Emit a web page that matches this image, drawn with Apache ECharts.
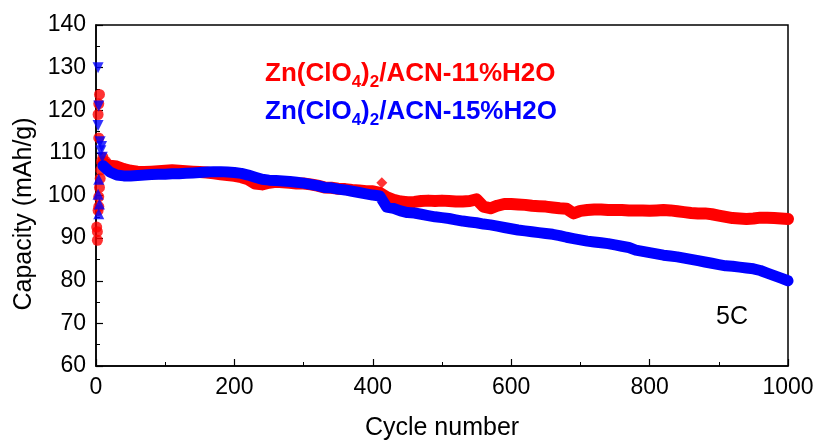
<!DOCTYPE html>
<html>
<head>
<meta charset="utf-8">
<script src="https://cdn.jsdelivr.net/npm/echarts@6/dist/echarts.min.js"></script>
<style>
  html, body { margin: 0; padding: 0; background: #fff; }
  #cont { width: 819px; height: 446px; }
</style>
</head>
<body>
<div id="cont"></div>
<script>
// cycles sampled along the band
var cycles = [10,20,30,40,50,60,70,80,90,100,110,120,130,140,150,160,170,180,190,200,
  210,220,230,240,250,260,270,280,290,300,310,320,330,340,350,360,370,380,390,400,
  410,420,430,440,450,460,470,480,490,500,510,520,530,540,550,560,570,580,590,600,
  610,620,630,640,650,660,670,680,690,700,710,720,730,740,750,760,770,780,790,800,
  810,820,830,840,850,860,870,880,890,900,910,920,930,940,950,960,970,980,990,1000];

// Zn(ClO4)2/ACN-11%H2O
var redVals = [107.5,107.0,106.8,106.2,105.8,105.6,105.5,105.6,105.7,105.8,105.9,105.8,105.7,105.6,105.5,105.4,105.2,105.0,104.8,104.6,
  104.3,103.8,102.8,102.6,103.0,103.2,103.1,103.0,102.8,102.8,102.6,102.3,101.9,101.8,101.6,101.5,101.3,101.2,101.0,101.0,
  100.6,99.6,99.0,98.6,98.4,98.5,98.7,98.8,98.7,98.8,98.7,98.6,98.6,98.7,99.1,97.4,97.0,97.6,98.0,98.0,
  97.9,97.8,97.6,97.5,97.4,97.2,97.0,96.9,95.8,96.4,96.6,96.7,96.7,96.6,96.6,96.6,96.5,96.5,96.5,96.4,
  96.5,96.6,96.5,96.3,96.1,95.9,95.8,95.8,95.6,95.3,95.0,94.7,94.6,94.5,94.6,94.8,94.8,94.7,94.6,94.5];

// Zn(ClO4)2/ACN-15%H2O
var blueVals = [107.0,105.5,104.8,104.6,104.6,104.7,104.8,104.9,105.0,105.0,105.1,105.1,105.2,105.3,105.4,105.5,105.6,105.6,105.5,105.4,
  105.2,104.8,104.3,103.8,103.6,103.5,103.4,103.3,103.1,102.9,102.6,102.3,101.9,101.8,101.5,101.3,101.0,100.7,100.4,100.1,
  99.9,97.3,97.0,96.4,96.0,95.9,95.6,95.3,95.0,94.8,94.6,94.3,94.0,93.8,93.6,93.3,93.1,92.8,92.5,92.2,
  91.9,91.7,91.5,91.3,91.1,90.9,90.6,90.2,89.9,89.6,89.3,89.1,88.9,88.7,88.4,88.1,87.8,87.2,86.9,86.6,
  86.3,86.0,85.8,85.6,85.3,85.0,84.7,84.4,84.1,83.8,83.5,83.4,83.2,83.0,82.8,82.4,81.8,81.2,80.6,80.0];

// first few cycles, scattered
var redEarly = [[2,89.5],[1,92.6],[2,91.5],[3,96.5],[4,97.4],[4,99.7],[5,101.9],[6,104],[4,113.5],
  [3,119],[4,121.5],[5,123.7],[7,106],[8,108],[10,109],[14,108]];
var redOutlier = [[413, 103.0]];
var blueDown = [[3,130],[4,121],[3,116.4],[6,112.6],[7,110.5],[9,109],[8,111.5]];
var blueUp = [[4,103.8],[3,100.3],[4,95.7],[5,98]];

var xTicks = [0, 200, 400, 600, 800, 1000];
var yMin = 60, yMax = 140;

var font = 'Liberation Sans, Arial, sans-serif';

function pairs(xs, ys) {
  return xs.map(function (x, i) { return [x, ys[i]]; });
}

var myChart = echarts.init(document.getElementById('cont'));
var axisCommon = {
  axisLine: { show: true, lineStyle: { color: '#000', width: 1.5 } },
  axisTick: { show: true, inside: true, length: 7, lineStyle: { color: '#000', width: 1.2 } },
  minorTick: { show: true, splitNumber: 2, length: 4, lineStyle: { color: '#000', width: 1 } },
  splitLine: { show: false },
  axisLabel: { color: '#000', fontSize: 23, fontFamily: font, margin: 10, formatter: function (v) { return String(v); } }
};

function legendText(label, color) {
  return {
    text: '{m|Zn(ClO}{s|4}{m|)}{s|2}{m|/ACN-' + label + '%H2O}',
    rich: {
      m: { fontSize: 26, fontWeight: 'bold', fill: color, fontFamily: font, verticalAlign: 'top' },
      s: { fontSize: 17, fontWeight: 'bold', fill: color, fontFamily: font, padding: [13, 0, 0, 0], verticalAlign: 'bottom' }
    }
  };
}

var option = {
  animation: false,
  backgroundColor: '#fff',
  grid: { left: 96, right: 31, top: 25, bottom: 75, show: true, borderColor: '#000', borderWidth: 1.5 },
  xAxis: Object.assign({
    type: 'value', min: xTicks[0], max: xTicks[xTicks.length - 1], interval: 200,
    name: 'Cycle number', nameLocation: 'middle', nameGap: 50,
    nameTextStyle: { color: '#000', fontSize: 25, fontFamily: font }
  }, axisCommon),
  yAxis: Object.assign({
    type: 'value', min: yMin, max: yMax, interval: 10
  }, axisCommon),
  graphic: [
    {
      type: 'text', x: 24, y: 214, rotation: Math.PI / 2,
      style: { text: 'Capacity (mAh/g)', fill: '#000', fontSize: 25, fontFamily: font, align: 'center', verticalAlign: 'middle' }
    },
    { type: 'text', left: 265, top: 61, style: legendText('11', '#ff0000') },
    { type: 'text', left: 265, top: 99, style: legendText('15', '#0000ff') },
    {
      type: 'text', left: 716, top: 305,
      style: { text: '5C', fill: '#000', fontSize: 25, fontFamily: font }
    }
  ],
  series: [
    {
      name: 'Zn(ClO4)2/ACN-11%H2O', type: 'line', data: pairs(cycles, redVals),
      symbol: 'none', lineStyle: { color: '#ff0000', width: 12, join: 'round', cap: 'round' }, z: 2
    },
    {
      name: 'red early', type: 'scatter', data: redEarly, symbol: 'circle', symbolSize: 11, clip: false,
      itemStyle: { color: '#ff0000' }, z: 2
    },
    {
      name: 'red outlier', type: 'scatter', data: redOutlier, symbol: 'diamond', symbolSize: 11,
      itemStyle: { color: '#ff0000' }, z: 2
    },
    {
      name: 'Zn(ClO4)2/ACN-15%H2O', type: 'line', data: pairs(cycles, blueVals),
      symbol: 'none', lineStyle: { color: '#0000ff', width: 11, join: 'round', cap: 'round' }, z: 3
    },
    {
      name: 'blue down', type: 'scatter', data: blueDown, symbol: 'triangle', symbolRotate: 180, symbolSize: 11, clip: false,
      itemStyle: { color: '#0000ff' }, z: 3
    },
    {
      name: 'blue up', type: 'scatter', data: blueUp, symbol: 'triangle', symbolSize: 11, clip: false,
      itemStyle: { color: '#0000ff' }, z: 3
    }
  ]
};

myChart.setOption(option);
</script>
</body>
</html>
